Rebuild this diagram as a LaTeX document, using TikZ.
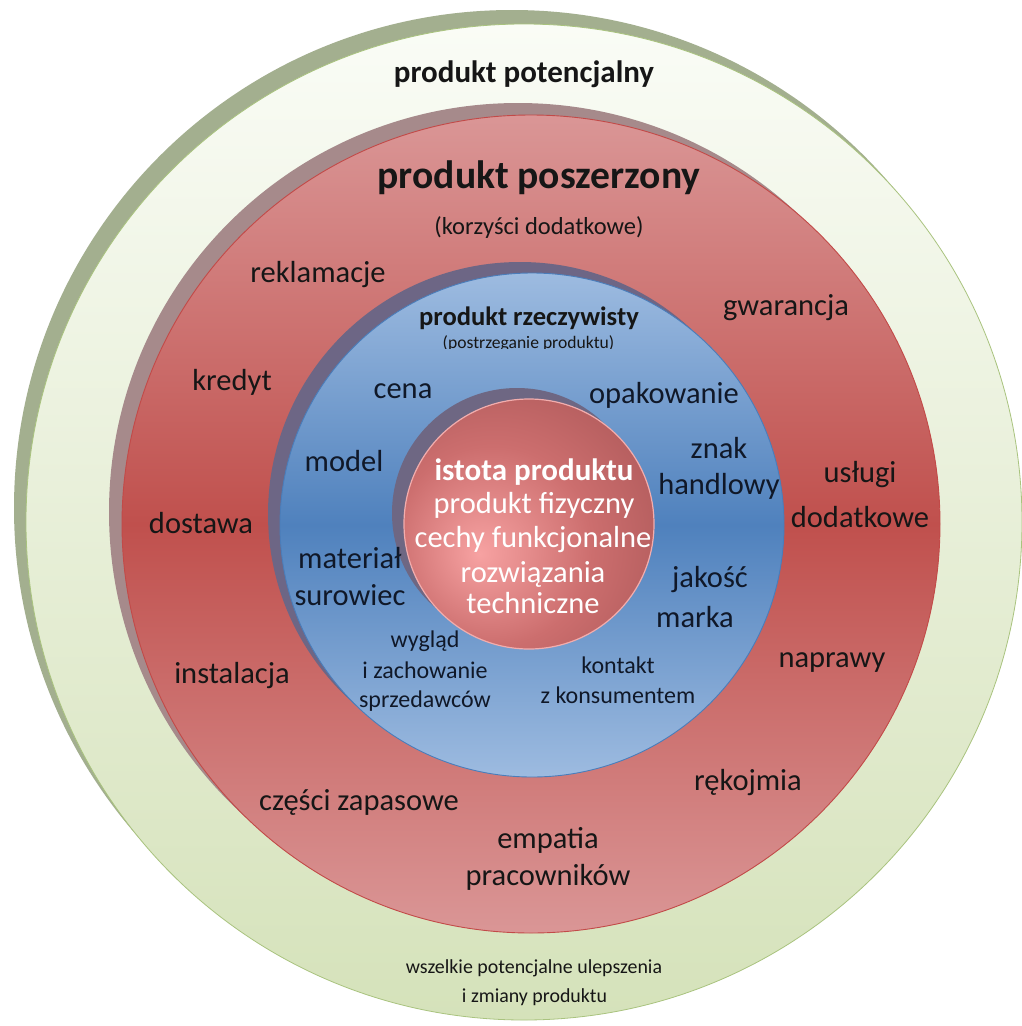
\documentclass[tikz,border=0pt]{standalone}
\usepackage{fontspec}
\setmainfont{Carlito}
\definecolor{gtop}{HTML}{FAFCF6}
\definecolor{gbot}{HTML}{D5E2BA}
\definecolor{gshadow}{HTML}{A3AF8F}
\definecolor{gline}{HTML}{A9C37E}
\definecolor{rlight}{HTML}{DA9696}
\definecolor{rmid}{HTML}{C0504D}
\definecolor{rshadow}{HTML}{A68A8B}
\definecolor{rline}{HTML}{C24A48}
\definecolor{blight}{HTML}{9DBBE0}
\definecolor{bmid}{HTML}{4F81BD}
\definecolor{bshadow}{HTML}{6D6685}
\definecolor{bline}{HTML}{4A7DBA}
\definecolor{corehi}{HTML}{F7A2A2}
\definecolor{coremid}{HTML}{CC6E6E}
\definecolor{coredark}{HTML}{9E4E4F}
\definecolor{cshadow}{HTML}{6E6783}
\definecolor{cline}{HTML}{F2ADAD}
\definecolor{txt}{HTML}{161616}
\definecolor{btxt}{HTML}{101828}
\pgfdeclareradialshading{coreshade}{\pgfpoint{-10bp}{-6bp}}{color(0bp)=(corehi); color(20bp)=(coremid); color(46bp)=(coredark); color(75bp)=(coredark)}
\begin{document}
\begin{tikzpicture}[x=1pt,y=-1pt,
  lab/.style={inner sep=0pt, anchor=base, text=txt, font=\fontsize{30.5}{36}\selectfont},
  blab/.style={lab, text=btxt},
  smalllab/.style={lab, text=btxt, font=\fontsize{24}{28}\selectfont},
  corelab/.style={lab, text=white, font=\fontsize{30.5}{36}\selectfont},
  coretitle/.style={lab, text=white, font=\bfseries\fontsize{31}{36}\selectfont},
  titleA/.style={lab, font=\bfseries\fontsize{31}{36}\selectfont},
  titleB/.style={lab, font=\bfseries\fontsize{39.6}{46}\selectfont},
  subB/.style={lab, font=\fontsize{24.5}{29}\selectfont},
  titleC/.style={lab, font=\bfseries\fontsize{26.6}{31}\selectfont},
  subC/.style={lab, font=\fontsize{17.6}{21}\selectfont},
  greenlab/.style={lab, font=\fontsize{19.9}{24}\selectfont}]
\useasboundingbox (0,0) rectangle (1021,1026);
\fill[white] (0,0) rectangle (1021,1026);
% centres
\coordinate (gs) at (512,508);
\coordinate (gc) at (524,522);
\coordinate (rs) at (518,512);
\coordinate (rc) at (531,524);
\coordinate (bs) at (520,514);
\coordinate (bc) at (532,525);
\coordinate (cs) at (517,513);
\coordinate (cc) at (529,524);
% outer green
\fill[gshadow] (gs) circle[radius=498pt];
\shade[top color=gtop, bottom color=gbot, draw=gline, line width=0.8pt] (gc) circle[radius=498pt];
% red
\fill[rshadow] (rs) circle[radius=409pt];
\shade[top color=rlight, bottom color=rlight, middle color=rmid, draw=rline, line width=0.9pt] (rc) circle[radius=409pt];
% blue
\fill[bshadow] (bs) circle[radius=252pt];
\shade[top color=blight, bottom color=blight, middle color=bmid, draw=bline, line width=0.9pt] (bc) circle[radius=252pt];
% core
\fill[cshadow] (cs) circle[radius=125pt];
\shade[shading=coreshade, draw=cline, line width=1.2pt] (cc) circle[radius=125pt];
% green texts
\node[titleA] (potencjalny) at (524,82) {produkt potencjalny};
\node[greenlab] (ulepszenia) at (534,973) {wszelkie potencjalne ulepszenia};
\node[greenlab] (zmiany) at (534.5,1002) {i zmiany produktu};
% red texts
\node[titleB] (poszerzony) at (539,188) {produkt poszerzony};
\node[subB] (korzysci) at (539,234) {(korzyści dodatkowe)};
\node[lab] (reklamacje) at (318,282) {reklamacje};
\node[lab] (gwarancja) at (786,315) {gwarancja};
\node[lab] (kredyt) at (232,390) {kredyt};
\node[lab] (uslugi) at (860,482) {usługi};
\node[lab] (dodatkowe) at (860,527) {dodatkowe};
\node[lab] (dostawa) at (201,533) {dostawa};
\node[lab] (instalacja) at (232,683) {instalacja};
\node[lab] (naprawy) at (832,667) {naprawy};
\node[lab] (czesci) at (359,810) {części zapasowe};
\node[lab] (rekojmia) at (748,790) {rękojmia};
\node[lab] (empatia) at (548,848) {empatia};
\node[lab] (pracownikow) at (548,885) {pracowników};
% blue texts
\node[titleC] (rzeczywisty) at (529,325) {produkt rzeczywisty};
\begin{scope}
\clip (400,330) rectangle (660,348.5);
\node[subC] (postrzeganie) at (528.5,348) {(postrzeganie produktu)};
\end{scope}
\node[blab] (cena) at (403,398) {cena};
\node[blab] (opakowanie) at (664,403) {opakowanie};
\node[blab] (znak) at (719,458) {znak};
\node[blab] (handlowy) at (719,494) {handlowy};
\node[blab] (model) at (344,471) {model};
\node[blab] (material) at (350,568) {materiał};
\node[blab] (surowiec) at (350,605) {surowiec};
\node[blab] (jakosc) at (710,587) {jakość};
\node[blab] (marka) at (695,627) {marka};
\node[smalllab] (wyglad) at (425,647) {wygląd};
\node[smalllab] (zachowanie) at (425,678) {i zachowanie};
\node[smalllab] (sprzedawcow) at (425,707) {sprzedawców};
\node[smalllab] (kontakt) at (618,673) {kontakt};
\node[smalllab] (konsumentem) at (618,703) {z konsumentem};
% core texts
\node[coretitle] (istota) at (534,480) {istota produktu};
\node[corelab] (fizyczny) at (534,513) {produkt fizyczny};
\node[corelab] (cechy) at (533,547) {cechy funkcjonalne};
\node[corelab] (rozwiazania) at (533,582) {rozwiązania};
\node[corelab] (techniczne) at (533,613) {techniczne};
\end{tikzpicture}
\end{document}
